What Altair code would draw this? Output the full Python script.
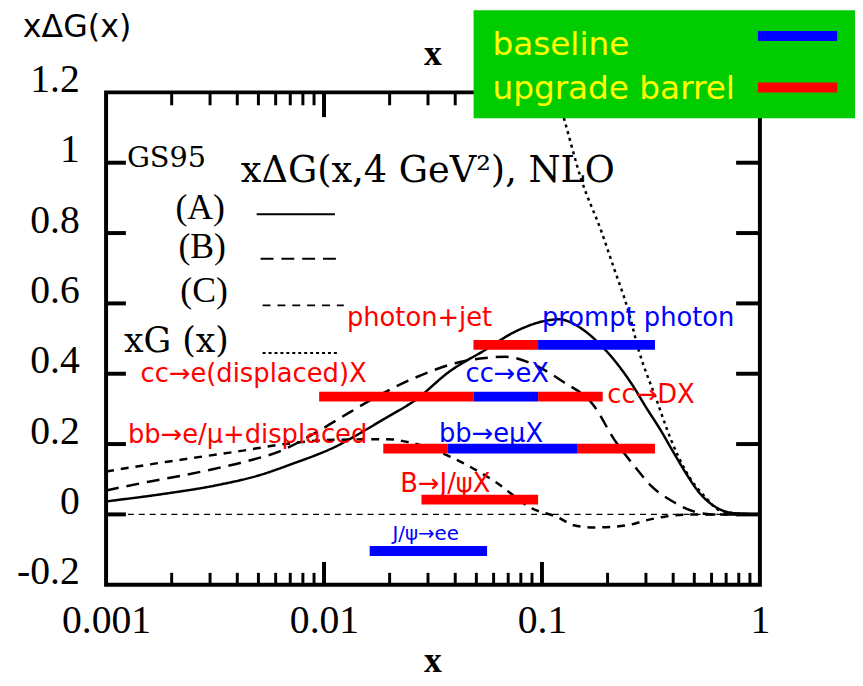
import altair as alt
import pandas as pd

# ---------------- data ----------------
A_x = [0.001, 0.00187, 0.00316, 0.00496, 0.00754, 0.0093, 0.0115, 0.0131, 0.0187, 0.0265, 0.0374,
       0.055, 0.0755, 0.107, 0.12, 0.146, 0.187, 0.23, 0.265, 0.30, 0.35, 0.40, 0.46, 0.53, 0.63, 0.75, 1.0]
A_y = [0.037, 0.059, 0.082, 0.11, 0.149, 0.17, 0.195, 0.214, 0.27, 0.327, 0.405,
       0.468, 0.52, 0.552, 0.555, 0.535, 0.48, 0.415, 0.36, 0.305, 0.24, 0.178, 0.115, 0.06, 0.02, 0.004, 0.0]

B_x = [0.001, 0.00157, 0.00221, 0.00316, 0.00447, 0.0063, 0.0093, 0.0131, 0.0187, 0.0265, 0.04,
       0.055, 0.068, 0.096, 0.123, 0.174, 0.214, 0.265, 0.316, 0.40, 0.50, 0.6, 1.0]
B_y = [0.068, 0.093, 0.11, 0.13, 0.152, 0.18, 0.235, 0.29, 0.345, 0.39, 0.43,
       0.445, 0.448, 0.42, 0.38, 0.307, 0.214, 0.138, 0.082, 0.036, 0.008, 0.0, 0.0]

C_x = [0.001, 0.00187, 0.00288, 0.00411, 0.0066, 0.011, 0.0194, 0.0246, 0.0374, 0.046, 0.061,
       0.09, 0.118, 0.14, 0.174, 0.246, 0.30, 0.37, 0.5, 0.7, 1.0]
C_y = [0.122, 0.149, 0.166, 0.18, 0.2, 0.212, 0.214, 0.205, 0.166, 0.138, 0.093,
       0.017, -0.008, -0.031, -0.037, -0.031, -0.017, -0.006, 0.0, 0.0, 0.0]

G_x = [0.09, 0.1, 0.113, 0.127, 0.151, 0.187, 0.214, 0.246, 0.28, 0.335, 0.39, 0.46, 0.57, 0.65, 0.8, 1.0]
G_y = [1.45, 1.35, 1.23, 1.12, 0.955, 0.806, 0.70, 0.59, 0.46, 0.327, 0.214, 0.12, 0.045, 0.012, 0.002, 0.0]

seg_x1 = [0.0485, 0.096, 0.0095, 0.0485, 0.096, 0.0187, 0.037, 0.146, 0.028, 0.0162]
seg_x2 = [0.096, 0.33, 0.0485, 0.096, 0.19, 0.037, 0.146, 0.33, 0.096, 0.056]
seg_y = [0.482, 0.482, 0.335, 0.335, 0.335, 0.187, 0.187, 0.187, 0.042, -0.104]
seg_group = ["upgrade barrel", "baseline", "upgrade barrel", "baseline", "upgrade barrel",
             "upgrade barrel", "baseline", "upgrade barrel", "upgrade barrel", "baseline"]

lab_text = ["photon+jet", "prompt photon", "cc\u2192e(displaced)X", "cc\u2192eX", "cc\u2192DX",
            "bb\u2192e/\u03bc+displaced", "bb\u2192e\u03bcX", "B\u2192J/\u03c8X", "J/\u03c8\u2192ee"]
lab_x = [0.01274, 0.1, 0.00144, 0.0446, 0.1995, 0.00126, 0.0337, 0.0224, 0.0206]
lab_y = [0.535, 0.535, 0.377, 0.377, 0.318, 0.203, 0.206, 0.065, -0.073]
lab_group = ["upgrade barrel", "baseline", "upgrade barrel", "baseline", "upgrade barrel",
             "upgrade barrel", "baseline", "upgrade barrel", "baseline"]
lab_size = [26, 26, 26, 26, 26, 26, 26, 26, 20]

x_label_vals = [0.001, 0.01, 0.1, 1]
y_label_vals = [-0.2, 0, 0.2, 0.4, 0.6, 0.8, 1.0, 1.2]
y_tick_vals = [0, 0.2, 0.4, 0.6, 0.8, 1.0]
x_major_ticks = [0.01, 0.1]
x_minor_ticks = [m * d for d in (0.001, 0.01, 0.1) for m in range(2, 10)]

# ---------------- layout ----------------
W, H = 660, 497
SERIF = "Liberation Serif"
SERIF2 = "DejaVu Serif"
SANS = "DejaVu Sans"
BLUE, RED = "#0000ff", "#ff0000"

xs = alt.Scale(type="log", domain=[0.001, 1])
ys = alt.Scale(domain=[-0.2, 1.2], nice=False, zero=False)
grp_scale = alt.Scale(domain=["baseline", "upgrade barrel"], range=[BLUE, RED])

X_AX = alt.Axis(values=x_label_vals, format="~g", labelFont=SERIF, labelFontSize=40, labelPadding=16,
                domain=False, ticks=False, tickSize=0, grid=False, title=None, labelFlush=False,
                labelOverlap=False, labelColor="black")
Y_AX = alt.Axis(values=y_label_vals, format="~g", labelExpr="replace(datum.label, '\u2212', '-')",
                labelFont=SERIF, labelFontSize=40, labelPadding=27, labelOffset=-13, domain=False,
                ticks=False, tickSize=0, grid=False, title=None, labelOverlap=False, labelColor="black")

def X(f):
    return alt.X(f, type="quantitative", scale=xs, axis=X_AX)

def Y(f):
    return alt.Y(f, type="quantitative", scale=ys, axis=Y_AX)

one = pd.DataFrame({"a": [0]})

def curve(xv, yv, dash, width=2.5):
    df = pd.DataFrame({"x": xv, "y": yv})
    return alt.Chart(df).mark_line(color="black", strokeWidth=width, strokeDash=dash, clip=True,
                                   interpolate="monotone").encode(x=X("x"), y=Y("y"))

frame = alt.Chart(one).mark_rect(fill="transparent", stroke="black", strokeWidth=4).encode(
    x=alt.value(0), x2=alt.value(W), y=alt.value(0), y2=alt.value(H))

zero_line = alt.Chart(pd.DataFrame({"z": [0.0]})).mark_rule(
    color="black", strokeWidth=1.2, strokeDash=[6, 5]).encode(
    x=alt.value(0), x2=alt.value(W), y=Y("z"))

ytd = pd.DataFrame({"v": y_tick_vals})
yt_left = alt.Chart(ytd).mark_rule(color="black", strokeWidth=4).encode(
    y=Y("v"), x=alt.value(0), x2=alt.value(20))
yt_right = alt.Chart(ytd).mark_rule(color="black", strokeWidth=4).encode(
    y=Y("v"), x=alt.value(W - 24), x2=alt.value(W))

xmaj = pd.DataFrame({"v": x_major_ticks})
xmin = pd.DataFrame({"v": x_minor_ticks})

def xticks(df, y0, y1, w):
    return alt.Chart(df).mark_rule(color="black", strokeWidth=w).encode(
        x=X("v"), y=alt.value(y0), y2=alt.value(y1))

ticks = [xticks(xmaj, H, H - 23, 4), xticks(xmin, H, H - 12, 3),
         xticks(xmaj, 0, 25, 4), xticks(xmin, 0, 13, 3)]

segs = alt.Chart(pd.DataFrame({"x1": seg_x1, "x2": seg_x2, "y": seg_y, "g": seg_group})).mark_rule(
    strokeWidth=10, strokeCap="butt").encode(
    x=X("x1"), x2="x2:Q", y=Y("y"),
    color=alt.Color("g:N", scale=grp_scale, legend=None))

labels = alt.Chart(pd.DataFrame({"t": lab_text, "x": lab_x, "y": lab_y, "g": lab_group, "s": lab_size})).mark_text(
    align="left", baseline="alphabetic", font=SANS).encode(
    x=X("x"), y=Y("y"), text="t:N",
    color=alt.Color("g:N", scale=grp_scale, legend=None),
    size=alt.Size("s:Q", scale=None, legend=None))

def txt(s, x, y, size, font=SERIF, color="black", weight="normal", align="left"):
    return alt.Chart(one).mark_text(text=s, font=font, fontSize=size, color=color, fontWeight=weight,
                                    align=align, baseline="alphabetic").encode(x=alt.value(x), y=alt.value(y))

def sample(x0, x1, y, dash, color="black", width=2):
    return alt.Chart(one).mark_rule(color=color, strokeWidth=width, strokeDash=dash, strokeCap="butt").encode(
        x=alt.value(x0), x2=alt.value(x1), y=alt.value(y))

annot = [
    txt("GS95", 21, 75, 29, font=SERIF2),
    txt("x\u0394G(x,4 GeV\u00b2), NLO", 136, 90, 37, font=SERIF2),
    txt("(A)", 70, 128, 36),
    txt("(B)", 73, 167, 36),
    txt("(C)", 75, 212, 36),
    txt("xG (x)", 18, 262, 35, font=SERIF2),
    sample(152, 231, 123, [1, 0]),
    sample(156, 240, 168, [13, 8]),
    sample(158, 240, 215, [8, 7]),
    sample(158, 236, 263, [3, 3]),
    txt("x\u0394G(x)", -84, -56, 32, font=SANS),
    txt("x", 330, -28, 36, weight="bold", align="center"),
    txt("x", 330, 585, 36, weight="bold", align="center"),
]

legend_box = alt.Chart(one).mark_rect(color="#00cc00").encode(
    x=alt.value(371), x2=alt.value(760), y=alt.value(-83), y2=alt.value(26))
legend_items = [
    sample(658, 738, -57, [1, 0], color=BLUE, width=10),
    sample(658, 738, -5, [1, 0], color=RED, width=10),
    txt("baseline", 390, -38, 33, font=SANS, color="#ffff00"),
    txt("upgrade barrel", 390, 7, 33, font=SANS, color="#ffff00"),
]

layers = [zero_line,
          curve(A_x, A_y, [1, 0]), curve(B_x, B_y, [13, 8]), curve(C_x, C_y, [8, 7]),
          curve(G_x, G_y, [3, 4]),
          segs, labels, frame, yt_left, yt_right] + ticks + annot + [legend_box] + legend_items

chart = alt.layer(*layers).properties(
    width=W, height=H,
    autosize=alt.AutoSizeParams(type="none"),
    padding={"left": 99, "top": 82, "right": 96, "bottom": 96},
    background="white",
).configure_view(stroke=None)

chart.save("out.html", embed_options={"renderer": "svg", "actions": False})
